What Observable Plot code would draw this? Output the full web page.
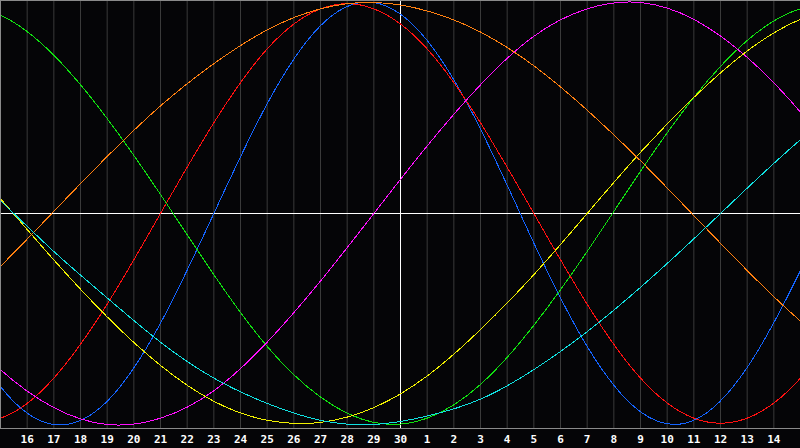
<!DOCTYPE html>
<html><head><meta charset="utf-8">
<script src="https://cdn.jsdelivr.net/npm/d3@7"></script>
<script src="https://cdn.jsdelivr.net/npm/@observablehq/plot@0.6"></script>
<style>html,body{margin:0;padding:0;background:#050507;} #chart svg{display:block}</style>
</head><body><div id="chart"></div>
<script>
// Day labels along the bottom (today = 30)
const days = [16,17,18,19,20,21,22,23,24,25,26,27,28,29,30,1,2,3,4,5,6,7,8,9,10,11,12,13,14];
// Sample positions (day index, 0 = left edge, 30 = right edge)
const steps = [-2,0,2,4,6,8,10,12,14,16,18,20,22,24,26,28,30,32];
// Curve values (-1 .. 1)
const physical     = [-0.40,-0.82,-1.00,-0.89,-0.52,0.00,0.52,0.89,1.00,0.82,0.40,-0.14,-0.63,-0.94,-0.98,-0.73,-0.27,0.27];
const emotional    = [-0.97,-0.97,-0.78,-0.43,0.00,0.43,0.78,0.97,0.97,0.78,0.43,0.00,-0.43,-0.78,-0.97,-0.97,-0.78,-0.43];
const intellectual = [1.00,0.94,0.75,0.45,0.09,-0.29,-0.63,-0.87,-0.99,-0.97,-0.81,-0.53,-0.18,0.20,0.55,0.82,0.97,0.99];
const intuitive    = [-0.48,-0.74,-0.92,-1.00,-0.97,-0.84,-0.61,-0.32,0.00,0.32,0.61,0.84,0.97,1.00,0.92,0.74,0.48,0.16];
const aesthetic    = [0.36,0.07,-0.22,-0.49,-0.72,-0.89,-0.98,-0.99,-0.92,-0.77,-0.55,-0.29,0.00,0.29,0.55,0.77,0.92,0.99];
const awareness    = [-0.49,-0.25,0.01,0.27,0.51,0.71,0.87,0.97,1.00,0.96,0.86,0.70,0.49,0.25,-0.01,-0.27,-0.51,-0.71];
const spiritual    = [0.29,0.06,-0.18,-0.40,-0.61,-0.78,-0.90,-0.98,-1.00,-0.96,-0.88,-0.74,-0.56,-0.35,-0.12,0.12,0.35,0.56];

const seriesNames  = ["Physical","Emotional","Intellectual","Intuitive","Aesthetic","Awareness","Spiritual"];
const seriesValues = [physical, emotional, intellectual, intuitive, aesthetic, awareness, spiritual];
const seriesColors = ["#1464ff","#ff1010","#10e010","#ff10ff","#f0f000","#ff8010","#10e0e0"];

const rows = seriesNames.flatMap((name, i) => steps.map((u, j) => ({name, u, v: seriesValues[i][j]})));
const ticks = days.map((d, i) => i + 1);
const today = [days.indexOf(30) + 1];

const chart = Plot.plot({
  width: 800, height: 448,
  marginTop: 0, marginRight: 0, marginBottom: 20, marginLeft: 0,
  style: {background: "#050507", color: "#fff"},
  x: {domain: [0, 30], label: null},
  y: {domain: [-1, 1], range: [424, 2], axis: null, label: null},
  color: {domain: seriesNames, range: seriesColors},
  marks: [
    Plot.ruleX(ticks, {stroke: "#3a3a3a"}),
    Plot.ruleX(today, {stroke: "#ffffff"}),
    Plot.ruleY([0], {stroke: "#ffffff"}),
    Plot.line(rows, {x: "u", y: "v", z: "name", stroke: "name", curve: "natural", clip: true, strokeWidth: 1, shapeRendering: "crispEdges"}),
    Plot.frame({anchor: "top", stroke: "#8a8a8a"}),
    Plot.frame({anchor: "bottom", stroke: "#8a8a8a"}),
    Plot.frame({anchor: "left", stroke: "#8a8a8a"}),
    Plot.axisX(ticks, {label: null, tickSize: 0, tickPadding: 7, tickFormat: d => String(days[d - 1]), fill: "#fff", fontFamily: "DejaVu Sans Mono", fontSize: 11, fontWeight: "bold"})
  ]
});
document.getElementById("chart").appendChild(chart);
</script>
</body></html>
